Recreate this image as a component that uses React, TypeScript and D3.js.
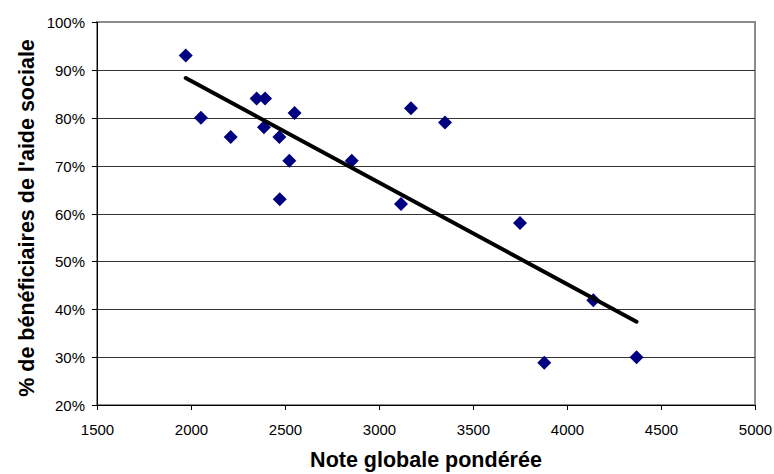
import * as d3 from 'd3'
import * as React from 'react'

//------------------------------data------------------------------
const notes = [
  1972, 2053, 2211, 2349, 2394, 2388, 2470, 2472, 2523, 2551, 2855, 3117, 3170,
  3351, 3750, 3879, 4140, 4370
]
const beneficiaires = [
  0.93, 0.8, 0.76, 0.84, 0.84, 0.78, 0.76, 0.63, 0.71, 0.81, 0.71, 0.62, 0.82,
  0.79, 0.58, 0.288, 0.419, 0.3
]
const xTicks = [1500, 2000, 2500, 3000, 3500, 4000, 4500, 5000]
const yTicks = [0.2, 0.3, 0.4, 0.5, 0.6, 0.7, 0.8, 0.9, 1.0]

const WIDTH = 774
const HEIGHT = 474
const margin = { left: 97, right: 19, top: 22, bottom: 69 }
const FONT = 'Liberation Sans, Arial, sans-serif'

//------------------------------regression------------------------------
const linearFit = (xs: number[], ys: number[]) => {
  const mx = d3.mean(xs) as number
  const my = d3.mean(ys) as number
  const num = d3.sum(xs, (x, i) => (x - mx) * (ys[i] - my))
  const den = d3.sum(xs, x => (x - mx) * (x - mx))
  const slope = num / den
  return (x: number) => my + slope * (x - mx)
}

//------------------------------Component------------------------------
export default function App() {
  const x = d3
    .scaleLinear()
    .domain([1500, 5000])
    .range([margin.left, WIDTH - margin.right])
  const y = d3
    .scaleLinear()
    .domain([0.2, 1.0])
    .range([HEIGHT - margin.bottom, margin.top])

  const fit = linearFit(notes, beneficiaires)
  const [xmin, xmax] = d3.extent(notes) as [number, number]
  const trend = d3
    .line<number>()
    .x(d => x(d))
    .y(d => y(fit(d)))([xmin, xmax])

  const pct = d3.format('.0%')
  const plotW = WIDTH - margin.left - margin.right
  const plotH = HEIGHT - margin.top - margin.bottom
  const bottom = HEIGHT - margin.bottom
  const s = 7

  return (
    <svg
      width={WIDTH}
      height={HEIGHT}
      style={{ position: 'absolute', left: 0, top: 0, background: '#fff' }}
    >
      <rect x={0} y={0} width={WIDTH} height={HEIGHT} fill="#fff" />
      {/* plot border */}
      <rect
        x={margin.left}
        y={margin.top}
        width={plotW}
        height={plotH}
        fill="#fff"
        stroke="#8c8c8c"
        strokeWidth={2}
      />
      {/* gridlines */}
      {yTicks.slice(1, -1).map(t => (
        <line
          key={t}
          x1={margin.left}
          x2={WIDTH - margin.right}
          y1={Math.round(y(t)) + 0.5}
          y2={Math.round(y(t)) + 0.5}
          stroke="#333"
          strokeWidth={1}
        />
      ))}
      {/* y axis */}
      <line x1={margin.left + 0.5} x2={margin.left + 0.5} y1={margin.top} y2={bottom} stroke="#000" />
      {yTicks.map(t => (
        <g key={t} transform={`translate(0,${Math.round(y(t)) + 0.5})`}>
          <line x1={margin.left - 5} x2={margin.left} stroke="#000" />
          <text
            x={margin.left - 12}
            dy="0.35em"
            textAnchor="end"
            fontFamily={FONT}
            fontSize={15}
          >
            {pct(t)}
          </text>
        </g>
      ))}
      {/* x axis */}
      <line x1={margin.left} x2={WIDTH - margin.right} y1={bottom + 0.5} y2={bottom + 0.5} stroke="#000" />
      {xTicks.map(t => (
        <g key={t} transform={`translate(${Math.round(x(t)) + 0.5},${bottom})`}>
          <line y1={0} y2={5} stroke="#000" />
          <text y={30} textAnchor="middle" fontFamily={FONT} fontSize={15}>
            {t}
          </text>
        </g>
      ))}
      {/* points */}
      {notes.map((n, i) => {
        const cx = x(n)
        const cy = y(beneficiaires[i])
        return (
          <path
            key={i}
            d={`M${cx},${cy - s}L${cx + s},${cy}L${cx},${cy + s}L${cx - s},${cy}Z`}
            fill="#000080"
          />
        )
      })}
      {/* trend line */}
      <path d={trend ?? ''} fill="none" stroke="#000" strokeWidth={4} strokeLinecap="round" />
      <text
        x={margin.left + plotW / 2}
        y={467}
        textAnchor="middle"
        fontFamily={FONT}
        fontWeight="bold"
        fontSize={21.5}
      >
        Note globale pondérée
      </text>
      <text
        transform={`translate(34,218) rotate(-90)`}
        textAnchor="middle"
        fontFamily={FONT}
        fontWeight="bold"
        fontSize={21.5}
      >
        % de bénéficiaires de l'aide sociale
      </text>
    </svg>
  )
}
